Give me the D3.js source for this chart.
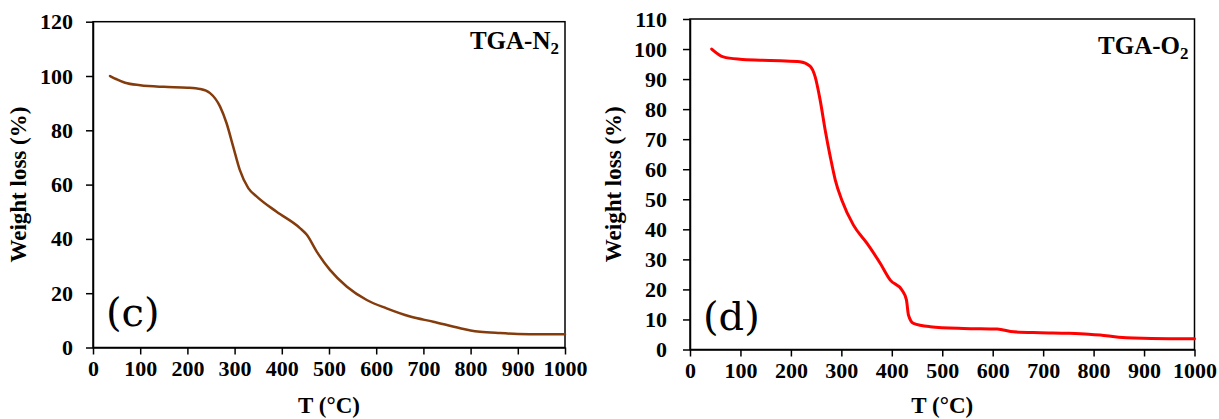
<!DOCTYPE html>
<html>
<head>
<meta charset="utf-8">
<script src="https://cdn.jsdelivr.net/npm/d3@7"></script>
<style>
  html, body { margin: 0; padding: 0; background: #fff; }
  svg text { font-family: "Liberation Serif", "Times New Roman", serif; }
</style>
</head>
<body>
<svg id="chart" width="1219" height="419"></svg>
<script>
// TGA curve under nitrogen: temperature (°C) and remaining weight (%)
const n2Temp   = [36, 50, 68, 100, 150, 200, 227, 248, 269, 283, 297, 311, 329, 347, 389, 439, 453, 474, 502, 538, 580, 622, 672, 721, 778, 800, 820, 862, 900, 950, 1000];
const n2Weight = [100, 98.8, 97.5, 96.6, 96.0, 95.7, 95.2, 93.7, 88.8, 82.6, 74.0, 65.4, 58.7, 55.6, 50.0, 43.9, 41.5, 35.3, 28.6, 22.4, 17.5, 14.4, 11.4, 9.5, 7.1, 6.3, 5.8, 5.3, 5.0, 4.9, 4.9];

// TGA curve under oxygen
const o2Temp   = [43, 66, 99, 139, 179, 218, 238, 248, 258, 268, 278, 288, 301, 324, 351, 377, 397, 420, 429, 433, 443, 476, 542, 609, 642, 694, 750, 790, 813, 850, 880, 950, 1000];
const o2Weight = [100, 97.4, 96.6, 96.3, 96.1, 95.8, 94.3, 90.8, 83.0, 73.0, 64.2, 56.4, 49.7, 41.4, 35.3, 28.7, 23.1, 19.8, 16.5, 11.5, 8.7, 7.6, 7.0, 6.8, 5.9, 5.6, 5.4, 5.1, 4.8, 4.1, 3.8, 3.6, 3.6];

// Axis ticks
const tempTicks     = [0, 100, 200, 300, 400, 500, 600, 700, 800, 900, 1000];
const n2WeightTicks = [0, 20, 40, 60, 80, 100, 120];
const o2WeightTicks = [0, 10, 20, 30, 40, 50, 60, 70, 80, 90, 100, 110];

const svg = d3.select("#chart");
const serif = '"Liberation Serif", "Times New Roman", serif';

function drawPanel(opt) {
  const x = d3.scaleLinear().domain([0, 1000]).range([opt.left, opt.right]);
  const y = d3.scaleLinear().domain([0, opt.yMax]).range([opt.bottom, opt.top]);
  const g = svg.append("g");

  // plot frame
  g.append("rect")
    .attr("x", opt.left).attr("y", opt.top)
    .attr("width", opt.right - opt.left).attr("height", opt.bottom - opt.top)
    .attr("fill", "none").attr("stroke", "#000").attr("stroke-width", 1.5);

  const xAxis = g.append("g")
    .attr("transform", `translate(0,${opt.bottom})`)
    .call(d3.axisBottom(x).tickValues(tempTicks).tickFormat(d3.format("d"))
      .tickSize(7).tickPadding(6).tickSizeOuter(0));
  const yAxis = g.append("g")
    .attr("transform", `translate(${opt.left},0)`)
    .call(d3.axisLeft(y).tickValues(opt.yTicks).tickFormat(d3.format("d"))
      .tickSize(7).tickPadding(opt.yPad).tickSizeOuter(0));

  [xAxis, yAxis].forEach(a => {
    a.select(".domain").attr("stroke", "#000").attr("stroke-width", 1.5);
    a.selectAll(".tick line").attr("stroke", "#000").attr("stroke-width", 1.5);
    a.selectAll(".tick text")
      .attr("fill", "#000")
      .style("font-family", serif)
      .style("font-weight", "bold")
      .style("font-size", "22px");
  });

  // curve
  const pts = opt.temp.map((t, i) => [t, opt.weight[i]]);
  g.append("path")
    .datum(pts)
    .attr("fill", "none")
    .attr("stroke", opt.color)
    .attr("stroke-width", opt.width)
    .attr("stroke-linejoin", "round")
    .attr("stroke-linecap", "round")
    .attr("d", d3.line().x(d => x(d[0])).y(d => y(d[1])).curve(d3.curveMonotoneX));

  // axis titles
  g.append("text")
    .attr("x", (opt.left + opt.right) / 2).attr("y", 413)
    .attr("text-anchor", "middle")
    .style("font-weight", "bold").style("font-size", "23px")
    .text("T (°C)");
  g.append("text")
    .attr("transform", `translate(${opt.yTitleX},${(opt.top + opt.bottom) / 2}) rotate(-90)`)
    .attr("text-anchor", "middle")
    .style("font-weight", "bold").style("font-size", "23px")
    .text("Weight loss (%)");

  // atmosphere label with subscript
  const lab = g.append("text")
    .attr("x", opt.right - 6).attr("y", opt.labelY)
    .attr("text-anchor", "end")
    .style("font-weight", "bold").style("font-size", "25px");
  lab.append("tspan").text(opt.gas);
  lab.append("tspan").attr("dy", 5).style("font-size", "17px").text("2");

  // panel letter
  g.append("text")
    .attr("x", opt.left + 13).attr("y", opt.letterY)
    .style("font-family", '"DejaVu Serif", serif')
    .style("font-size", "40px")
    .text(opt.letter);
}

drawPanel({
  left: 93, right: 565, top: 21.7, bottom: 347.5, yMax: 120, yTicks: n2WeightTicks, yPad: 13,
  temp: n2Temp, weight: n2Weight, color: "#843c0c", width: 2.5,
  yTitleX: 25.5, gas: "TGA-N", labelY: 49, letter: "(c)", letterY: 326
});

drawPanel({
  left: 690, right: 1194.5, top: 19, bottom: 349.5, yMax: 110, yTicks: o2WeightTicks, yPad: 16,
  temp: o2Temp, weight: o2Weight, color: "#ff0000", width: 3,
  yTitleX: 621, gas: "TGA-O", labelY: 54, letter: "(d)", letterY: 330
});
</script>
</body>
</html>
